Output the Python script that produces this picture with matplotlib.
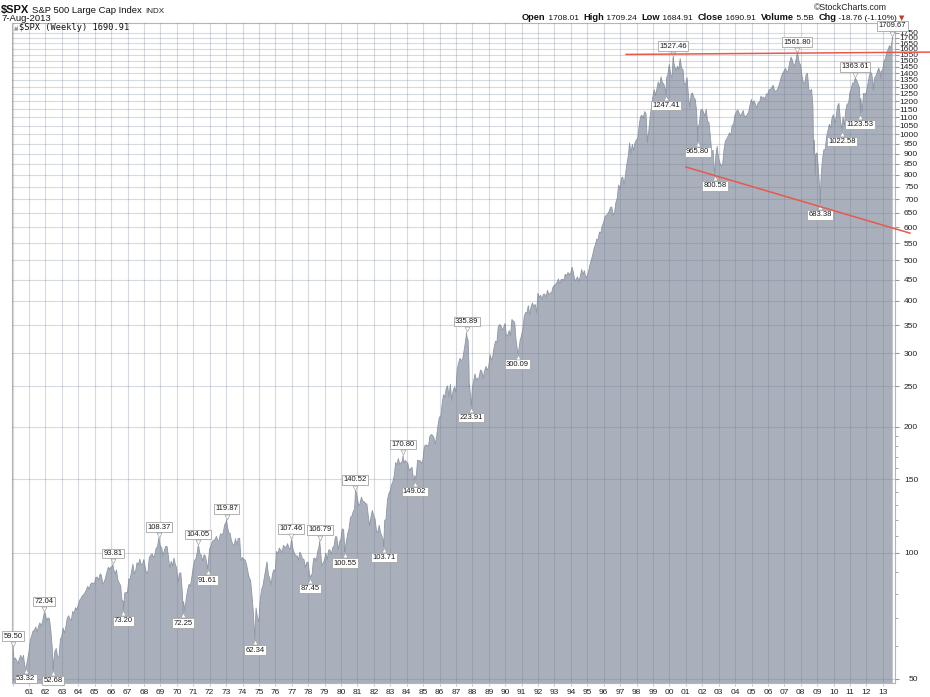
import numpy as np
import matplotlib
matplotlib.use('Agg')
import matplotlib.pyplot as plt
from matplotlib.transforms import offset_copy
from matplotlib.patches import Polygon

plt.rcParams['font.family'] = ['Liberation Sans', 'DejaVu Sans']

# monthly closes of the S&P 500 (Jan 1960 onwards)
closes_1960s = [
    55.61, 56.12, 55.34, 54.37, 55.83, 56.92, 55.51, 56.96, 53.52, 53.39, 55.54, 58.11,
    61.78, 63.44, 65.06, 65.31, 66.56, 64.64, 66.76, 68.07, 66.73, 68.62, 71.32, 71.55,
    68.84, 69.96, 69.55, 65.24, 59.63, 54.75, 58.23, 59.12, 56.27, 56.52, 62.26, 63.10,
    66.20, 64.29, 66.57, 69.80, 70.80, 69.37, 69.13, 72.50, 71.70, 74.01, 73.23, 75.02,
    77.04, 77.80, 78.98, 79.46, 80.37, 81.69, 83.18, 81.83, 84.18, 84.86, 84.42, 84.75,
    87.56, 87.43, 86.16, 89.11, 88.42, 84.12, 85.25, 87.17, 89.96, 92.42, 91.61, 92.43,
    92.88, 91.22, 89.23, 91.06, 86.13, 84.74, 83.60, 77.10, 76.56, 80.20, 80.45, 80.33,
    86.61, 86.78, 90.20, 94.01, 89.08, 90.64, 94.75, 93.64, 96.71, 93.90, 94.00, 96.47,
    92.24, 89.36, 90.20, 97.59, 98.68, 99.58, 97.74, 98.86, 102.67, 103.41, 108.37, 103.86,
    103.01, 98.13, 101.51, 103.69, 103.46, 97.71, 91.83, 95.51, 93.12, 97.24, 93.81, 92.06]
closes_1970s = [
    85.02, 89.50, 89.63, 81.52, 76.55, 72.72, 78.05, 81.52, 84.21, 83.25, 87.20, 92.15,
    95.88, 96.75, 100.31, 103.95, 99.63, 98.70, 95.58, 99.03, 98.34, 94.23, 93.99, 102.09,
    103.94, 106.57, 107.20, 107.67, 109.53, 107.14, 107.39, 111.09, 110.55, 111.58, 116.67, 118.05,
    116.03, 111.68, 111.52, 106.97, 104.95, 104.26, 108.22, 104.25, 108.43, 108.29, 95.96, 97.55,
    96.57, 96.22, 93.98, 90.31, 87.28, 86.00, 79.31, 72.15, 63.54, 73.90, 69.97, 68.56,
    76.98, 81.59, 83.36, 87.30, 91.15, 95.19, 88.75, 86.88, 83.87, 89.04, 91.24, 90.19,
    100.86, 99.71, 102.77, 101.64, 100.18, 104.28, 103.44, 102.91, 105.24, 102.90, 102.10, 107.46,
    102.03, 99.82, 98.42, 98.44, 96.12, 100.48, 98.85, 96.77, 96.53, 92.34, 94.83, 95.10,
    89.25, 88.00, 89.21, 96.83, 97.24, 95.53, 100.68, 103.29, 102.54, 93.15, 94.70, 96.11,
    99.93, 96.28, 101.59, 101.76, 99.08, 102.91, 103.81, 109.32, 109.32, 101.82, 106.16, 107.94]
closes_1980s = [
    114.16, 113.66, 102.09, 106.29, 111.24, 114.24, 121.67, 122.38, 125.46, 127.47, 140.52, 135.76,
    129.55, 131.27, 136.00, 132.81, 132.59, 131.21, 130.92, 122.79, 116.18, 121.89, 126.35, 122.55,
    120.40, 113.11, 111.96, 116.44, 111.88, 109.61, 107.09, 119.51, 120.42, 133.71, 138.54, 140.64,
    145.30, 148.06, 152.96, 164.42, 162.39, 168.11, 162.56, 164.40, 166.07, 163.55, 166.40, 164.93,
    163.41, 157.06, 159.18, 160.05, 150.55, 153.18, 150.66, 166.68, 166.10, 166.09, 163.58, 167.24,
    179.63, 181.18, 180.66, 179.83, 189.55, 191.85, 190.92, 188.63, 182.08, 189.82, 202.17, 211.28,
    211.78, 226.92, 238.90, 235.52, 247.35, 250.84, 236.12, 252.93, 231.32, 243.98, 249.22, 242.17,
    274.08, 284.20, 291.70, 288.36, 290.10, 304.00, 318.66, 329.80, 321.83, 251.79, 230.30, 247.08,
    257.07, 267.82, 258.89, 261.33, 262.16, 273.50, 272.02, 261.52, 271.91, 278.97, 273.70, 277.72,
    297.47, 288.86, 294.87, 309.64, 320.52, 317.98, 346.08, 351.45, 349.15, 340.36, 345.99, 353.40]
closes_1990s = [
    329.08, 331.89, 339.94, 330.80, 361.23, 358.02, 356.15, 322.56, 306.05, 304.00, 322.22, 330.22,
    343.93, 367.07, 375.22, 375.35, 389.83, 371.16, 387.81, 395.43, 387.86, 392.45, 375.22, 417.09,
    408.79, 412.70, 403.69, 414.95, 415.35, 408.14, 424.21, 414.03, 417.80, 418.68, 431.35, 435.71,
    438.78, 443.38, 451.67, 440.19, 450.19, 450.53, 448.13, 463.56, 458.93, 467.83, 461.79, 466.45,
    481.61, 467.14, 445.77, 450.91, 456.50, 444.27, 458.26, 475.49, 462.69, 472.35, 453.69, 459.27,
    470.42, 487.39, 500.71, 514.71, 533.40, 544.75, 562.06, 561.88, 584.41, 581.50, 605.37, 615.93,
    636.02, 640.43, 645.50, 654.17, 669.12, 670.63, 639.95, 651.99, 687.33, 705.27, 757.02, 740.74,
    786.16, 790.82, 757.12, 801.34, 848.28, 885.14, 954.29, 899.47, 947.28, 914.62, 955.40, 970.43,
    980.28, 1049.34, 1101.75, 1111.75, 1090.82, 1133.84, 1120.67, 957.28, 1017.01, 1098.67, 1163.63, 1229.23,
    1279.64, 1238.33, 1286.37, 1335.18, 1301.84, 1372.71, 1328.72, 1320.41, 1282.71, 1362.93, 1388.91, 1469.25]
closes_2000s = [
    1394.46, 1366.42, 1498.58, 1452.43, 1420.60, 1454.60, 1430.83, 1517.68, 1436.51, 1429.40, 1314.95, 1320.28,
    1366.01, 1239.94, 1160.33, 1249.46, 1255.82, 1224.38, 1211.23, 1133.58, 1040.94, 1059.78, 1139.45, 1148.08,
    1130.20, 1106.73, 1147.39, 1076.92, 1067.14, 989.82, 911.62, 916.07, 815.28, 885.76, 936.31, 879.82,
    855.70, 841.15, 848.18, 916.92, 963.59, 974.50, 990.31, 1008.01, 995.97, 1050.71, 1058.20, 1111.92,
    1131.13, 1144.94, 1126.21, 1107.30, 1120.68, 1140.84, 1101.72, 1104.24, 1114.58, 1130.20, 1173.82, 1211.92,
    1181.27, 1203.60, 1180.59, 1156.85, 1191.50, 1191.33, 1234.18, 1220.33, 1228.81, 1207.01, 1249.48, 1248.29,
    1280.08, 1280.66, 1294.87, 1310.61, 1270.09, 1270.20, 1276.66, 1303.82, 1335.85, 1377.94, 1400.63, 1418.30,
    1438.24, 1406.82, 1420.86, 1482.37, 1530.62, 1503.35, 1455.27, 1473.99, 1526.75, 1549.38, 1481.14, 1468.36,
    1378.55, 1330.63, 1322.70, 1385.59, 1400.38, 1280.00, 1267.38, 1282.83, 1166.36, 968.75, 896.24, 903.25,
    825.88, 735.09, 797.87, 872.81, 919.14, 919.32, 987.48, 1020.62, 1057.08, 1036.19, 1095.63, 1115.10]
closes_2010s = [
    1073.87, 1104.49, 1169.43, 1186.69, 1089.41, 1030.71, 1101.60, 1049.33, 1141.20, 1183.26, 1180.55, 1257.64,
    1286.12, 1327.22, 1325.83, 1363.61, 1345.20, 1320.64, 1292.28, 1218.89, 1131.42, 1253.30, 1246.96, 1257.60,
    1312.41, 1365.68, 1408.47, 1397.91, 1310.33, 1362.16, 1379.32, 1406.58, 1440.67, 1412.16, 1416.18, 1426.19,
    1498.11, 1514.68, 1569.19, 1597.57, 1630.74, 1606.28, 1685.73]

# a few extra weekly swings (decimal year, close)
extra_dates = [1987.79, 1987.81, 1998.67, 2008.78, 2008.89, 2010.10, 2012.42, 2012.88, 2013.60]
extra_values = [282.70, 248.22, 973.89, 899.22, 800.03, 1066.19, 1278.04, 1359.88, 1690.91]

# labelled peaks (p) and troughs (t)
label_dates = [1960.02, 1960.80, 1961.92, 1962.47, 1966.10, 1966.75, 1968.90, 1970.38,
               1971.30, 1971.87, 1973.03, 1974.75, 1976.98, 1978.12, 1978.70, 1980.24,
               1980.88, 1982.60, 1983.78, 1984.48, 1987.65, 1987.94, 1990.75, 1999.79,
               2000.23, 2001.72, 2002.76, 2007.78, 2009.18, 2010.50, 2011.32, 2011.63,
               2013.585]
label_values = [59.50, 53.32, 72.04, 52.68, 93.81, 73.20, 108.37, 72.25,
                104.05, 91.61, 119.87, 62.34, 107.46, 87.45, 106.79, 100.55,
                140.52, 103.71, 170.80, 149.02, 335.89, 223.91, 300.09, 1247.41,
                1527.46, 965.80, 800.58, 1561.80, 683.38, 1022.58, 1363.61, 1123.53,
                1709.67]
label_kinds = ['p', 't', 'p', 't', 'p', 't', 'p', 't',
               'p', 't', 'p', 't', 'p', 't', 'p', 't',
               'p', 't', 'p', 't', 'p', 't', 't', 't',
               'p', 't', 't', 'p', 't', 't', 'p', 't',
               'p']

# hand drawn trend lines
resist_x = [1997.36, 2015.87]
resist_y = [1553, 1573]
support_x = [2001.0, 2014.65]
support_y = [836, 581]

years = list(range(1960, 2014))
y_major = list(range(50, 1751, 50))
y_minor = [60, 70, 80, 90, 110, 120, 130, 140, 160, 170, 180, 190]

# ---- build the series
monthly = closes_1960s + closes_1970s + closes_1980s + closes_1990s + closes_2000s + closes_2010s
monthly_dates = [1960 + i // 12 + (i % 12 + 0.9) / 12 for i in range(len(monthly))]
dates = np.array(monthly_dates + extra_dates + label_dates)
vals = np.array(monthly + extra_values + label_values)
order = np.argsort(dates, kind='stable')
dates = dates[order]
vals = vals[order]

W, H = 930, 697
fig = plt.figure(figsize=(W / 100, H / 100), dpi=100)
ax = fig.add_axes([12 / W, 1 - 683 / H, (895 - 12) / W, (683 - 23) / H])

fill_col = '#a9b0bb'
ax.fill_between(dates, vals, 1, color=fill_col, lw=0, zorder=1)
ax.plot(dates, vals, color='#8e97a5', lw=0.6, zorder=1.5)

ax.set_yscale('log')
ax.set_ylim(48.9, 1846)
ax.set_xlim(1959.96, 2013.74)

ax.yaxis.tick_right()
ax.set_yticks(y_major)
ax.set_yticklabels([str(v) for v in y_major])
ax.set_yticks(y_minor, minor=True)
ax.yaxis.set_minor_formatter(plt.NullFormatter())
ax.tick_params(axis='y', which='major', length=3, color='#999999', labelsize=6,
               labelcolor='#222222', pad=13.7)
ax.tick_params(axis='y', which='minor', length=2, color='#999999')
for lab in ax.get_yticklabels():
    lab.set_horizontalalignment('right')

ax.set_xticks(years)
ax.set_xticklabels([''] + ['%02d' % (y % 100) for y in years[1:]])
ax.tick_params(axis='x', length=2, color='#cccccc', labelsize=6, labelcolor='#222222', pad=2)

ax.set_axisbelow(False)
ax.grid(which='major', color='#6f7d94', alpha=0.28, lw=0.8)
ax.grid(which='minor', visible=False)
for s in ax.spines.values():
    s.set_color('#b5b5b5')
    s.set_linewidth(0.8)

# peak / trough labels
for d, v, k in zip(label_dates, label_values, label_kinds):
    up = k == 'p'
    off = 5.5 if up else -5.5
    ax.annotate('%.2f' % v, xy=(d, v), xytext=(0, off), textcoords='offset points',
                ha='center', va='bottom' if up else 'top', fontsize=5.5, color='#1a1a1a',
                bbox=dict(boxstyle='square,pad=0.18', fc='white', ec='#a5a5a5', lw=0.6),
                annotation_clip=False, zorder=6)
    tr = offset_copy(ax.transData, fig=fig, x=0, y=off * 0.45, units='points')
    ax.plot(d, v, marker='v' if up else '^', ms=3.5, mfc='white', mec='#a5a5a5',
            mew=0.5, transform=tr, clip_on=False, zorder=7)

ax.plot(resist_x, resist_y, color='#e8584e', lw=1.1, clip_on=False, zorder=8)
ax.plot(support_x, support_y, color='#e8584e', lw=1.1, clip_on=False, zorder=8)

# ---- header texts
def px(x, y):
    return x / W, 1 - y / H

fig.canvas.draw()
rend = fig.canvas.get_renderer()

t = fig.text(*px(1, 13), r'\$SPX', fontsize=8, fontweight='bold', color='#111111',
             family=['Liberation Sans Narrow', 'Liberation Sans'])
x = 1 + t.get_window_extent(rend).width + 3
t = fig.text(*px(x, 13), 'S&P 500 Large Cap Index', fontsize=6.8, color='#111111')
x += t.get_window_extent(rend).width + 3
fig.text(*px(x, 13), 'INDX', fontsize=5.8, color='#222222')
fig.text(*px(1, 21), '7-Aug-2013', fontsize=6.8, color='#111111')
fig.text(*px(887, 10), '\u00a9StockCharts.com', fontsize=6.3, color='#222222', ha='right')
fig.text(*px(19, 30), r'\$SPX (Weekly) 1690.91', fontsize=6.2, family='DejaVu Sans Mono',
         color='#111111')
icon = Polygon([px(14, 30.5), px(15.5, 26.5), px(16.5, 28), px(17.5, 25), px(18, 30.5)],
               closed=True, fc='#8e97a5', ec='none', transform=fig.transFigure)
fig.add_artist(icon)

parts = [('Open', True), (' 1708.01  ', False), ('High', True), (' 1709.24  ', False),
         ('Low', True), (' 1684.91  ', False), ('Close', True), (' 1690.91  ', False),
         ('Volume', True), (' 5.5B  ', False), ('Chg', True), (' -18.76 (-1.10%)', False)]
x = 522
for txt, bold in parts:
    t = fig.text(*px(x, 20.5), txt, fontsize=6.7 if bold else 6.0,
                 fontweight='bold' if bold else 'normal', color='#111111')
    x += t.get_window_extent(rend).width
fig.text(*px(x + 2, 20.5), '\u25bc', fontsize=5, color='#c0392b', family='DejaVu Sans')

fig.savefig('out.png', dpi=100)
